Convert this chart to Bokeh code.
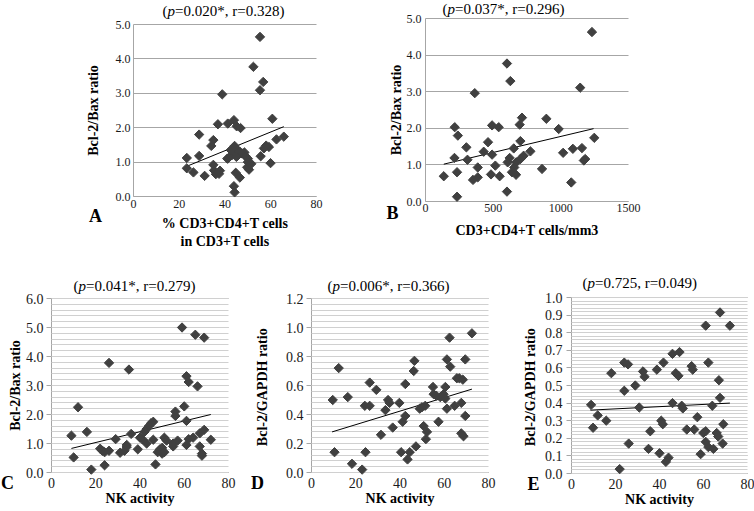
import numpy as np
from bokeh.plotting import figure
from bokeh.layouts import column, row
from bokeh.models import (Range1d, SingleIntervalTicker, PrintfTickFormatter, Label,
                          LinearAxis)
from bokeh.embed import file_html
from bokeh.resources import INLINE

# ---------------- data ----------------
A_pct = [55.3, 52.4, 56.7, 55.3, 38.8, 60.7, 36.9, 41.2, 43.9, 45.1, 46.8, 28.7, 34.9, 34.0, 44.2,
         65.7, 62.5, 57.0, 59.2, 58.0, 55.6, 59.9, 23.3, 28.7, 23.3, 26.2, 31.1, 34.9, 35.2, 37.4,
         37.8, 41.5, 43.0, 44.5, 45.5, 46.5, 47.5, 48.5, 49.0, 50.0, 45.0, 44.7, 46.5, 49.7, 50.5,
         51.5, 50.0, 43.9, 44.2, 36.0, 42.5, 41.0]
A_ratio = [4.64, 3.77, 3.33, 3.09, 2.97, 2.26, 2.10, 2.12, 2.22, 2.04, 1.99, 1.80, 1.64, 1.47, 1.47,
           1.74, 1.66, 1.40, 1.44, 1.48, 1.17, 0.97, 1.12, 1.18, 0.82, 0.70, 0.60, 0.92, 0.76, 0.66,
           0.75, 1.12, 1.20, 1.25, 1.35, 1.30, 1.25, 1.28, 1.17, 1.10, 1.15, 0.69, 0.55, 0.85, 0.78,
           0.95, 1.00, 0.30, 0.12, 0.65, 1.35, 1.10]
A_trend_x = [23.0, 65.7]
A_trend_y = [0.87, 2.03]

B_cells = [1230, 602, 627, 1143, 364, 893, 713, 696, 984, 216, 492, 541, 239, 462, 701, 430, 652,
           775, 1156, 1089, 1247, 1017, 302, 214, 310, 492, 725, 701, 622, 607, 1180, 1170, 516,
           386, 135, 233, 351, 386, 484, 548, 639, 669, 656, 861, 1077, 602, 233, 671]
B_ratio = [4.63, 3.77, 3.29, 3.11, 2.96, 2.26, 2.29, 2.10, 1.98, 2.03, 2.08, 2.03, 1.80, 1.62, 1.65,
           1.36, 1.45, 1.37, 1.46, 1.44, 1.74, 1.33, 1.48, 1.19, 1.14, 1.28, 1.25, 1.16, 1.19, 1.07,
           1.16, 1.12, 0.98, 0.93, 0.69, 0.80, 0.59, 0.66, 0.74, 0.69, 0.80, 0.73, 0.93, 0.89, 0.52,
           0.27, 0.13, 1.07]
B_trend_x = [135, 1242]
B_trend_y = [1.02, 1.99]

C_nk = [9, 10, 12, 16, 18, 22, 23, 24, 24, 26, 26, 29, 31, 33, 34, 34, 35, 36, 39, 40, 41, 42, 43,
        43, 44, 45, 46, 46, 47, 48, 49, 50, 50, 51, 51, 52, 55, 55, 56, 56, 57, 59, 60, 61, 61, 61,
        62, 62, 64, 65, 66, 67, 67, 68, 68, 69, 69, 72]
C_ratio = [1.27, 0.52, 2.25, 1.40, 0.10, 0.82, 0.75, 0.25, 0.70, 3.78, 0.75, 1.15, 0.68, 0.75, 0.88,
           0.95, 3.55, 1.33, 0.80, 1.20, 1.15, 1.40, 1.00, 1.50, 1.60, 1.70, 1.75, 1.13, 0.28, 0.70,
           0.80, 0.85, 0.65, 1.20, 0.70, 1.10, 0.90, 1.00, 2.10, 1.95, 1.10, 5.00, 2.28, 1.78, 3.32,
           0.95, 3.12, 1.15, 1.20, 4.75, 2.97, 1.35, 0.90, 0.65, 0.58, 1.47, 4.65, 1.13]
C_trend_x = [9, 72]
C_trend_y = [0.83, 2.00]

D_nk = [9.6, 12.3, 10.4, 16.4, 18.3, 22.9, 24.4, 24.1, 26.3, 26.3, 29.3, 31.4, 33.4, 34.6, 35.3,
        36.7, 39.7, 40.5, 41.2, 42.4, 42.4, 43.4, 44.4, 46.2, 46.5, 47.2, 48.9, 49.9, 50.7, 51.4,
        51.7, 52.2, 54.9, 55.2, 56.4, 57.4, 58.2, 59.7, 60.5, 60.5, 61.2, 61.2, 62.4, 62.7, 64.7,
        65.7, 66.8, 67.7, 67.7, 68.4, 68.7, 69.5, 69.5, 72.5]
D_ratio = [0.50, 0.72, 0.14, 0.52, 0.06, 0.02, 0.14, 0.46, 0.46, 0.62, 0.57, 0.26, 0.43, 0.50, 0.48,
           0.31, 0.48, 0.14, 0.35, 0.39, 0.61, 0.09, 0.14, 0.70, 0.77, 0.18, 0.44, 0.45, 0.32, 0.46,
           0.23, 0.28, 0.59, 0.54, 0.53, 0.35, 0.52, 0.54, 0.59, 0.51, 0.78, 0.44, 0.93, 0.73, 0.46,
           0.65, 0.65, 0.48, 0.27, 0.64, 0.25, 0.78, 0.39, 0.96]
D_trend_x = [9.3, 72.5]
D_trend_y = [0.28, 0.575]

E_nk = [8.9, 9.8, 11.9, 15.8, 18.1, 21.9, 24.0, 24.0, 25.7, 26.0, 29.0, 30.8, 32.5, 33.2, 35.8,
        35.0, 38.8, 40.0, 40.8, 41.5, 41.8, 42.9, 44.1, 45.9, 45.9, 47.4, 48.6, 49.1, 50.1, 50.6,
        52.4, 54.6, 55.1, 55.8, 57.2, 58.7, 59.9, 61.0, 61.0, 61.0, 62.2, 62.2, 64.0, 64.5, 66.0,
        66.7, 67.0, 67.5, 67.5, 69.0, 68.7, 72.0]
E_ratio = [0.39, 0.26, 0.33, 0.30, 0.57, 0.025, 0.63, 0.47, 0.62, 0.17, 0.50, 0.375, 0.58, 0.55, 0.24,
           0.14, 0.59, 0.115, 0.30, 0.28, 0.63, 0.066, 0.09, 0.68, 0.40, 0.57, 0.555, 0.69, 0.385, 0.37,
           0.25, 0.61, 0.59, 0.25, 0.32, 0.11, 0.23, 0.84, 0.24, 0.18, 0.63, 0.15, 0.385, 0.14, 0.23,
           0.21, 0.53, 0.43, 0.915, 0.28, 0.17, 0.84]
E_trend_x = [8.6, 72.0]
E_trend_y = [0.36, 0.40]

# title pieces: "(" + italic "p" + rest
title_rest = ["=0.020*, r=0.328)", "=0.037*, r=0.296)", "=0.041*, r=0.279)",
              "=0.006*, r=0.366)", "=0.725, r=0.049)"]
letters = ["A", "B", "C", "D", "E"]
xlabels = ["% CD3+CD4+T cells\nin CD3+T cells", "CD3+CD4+T cells/mm3",
           "NK activity", "NK activity", "NK activity"]
ylabels = ["Bcl-2/Bax ratio", "Bcl-2/Bax ratio", "Bcl-2/Bax ratio",
           "Bcl-2/GAPDH  ratio", "Bcl-2/GAPDH  ratio"]

SERIF = "Liberation Serif"
GRID = "#a6a6a6"
MINOR = "#d0d0d0"
MARK = "#404040"
TITLE_PX = 15


def panel(x, y, tx, ty, rest, letter, xlabel, ylabel, *, xr, yr, xint, yint, nminor,
          x0, y0, w, h, fl, fr, ft, fb, tick_px, title_left, title_y, letter_px,
          ytick_out, ystand, ylab_stand, xstand, xlab_stand):
    kx = (xr[1] - xr[0]) / (fr - fl)
    ky = (yr[1] - yr[0]) / (fb - ft)
    p = figure(width=w, height=h, output_backend="svg", toolbar_location=None,
               x_axis_location=None, y_axis_location=None, title=None,
               x_range=Range1d(xr[0] - (fl - x0) * kx, xr[1] + (x0 + w - fr) * kx),
               y_range=Range1d(yr[0] - (y0 + h - fb) * ky, yr[1] + (ft - y0) * ky))
    p.min_border_left = p.min_border_right = p.min_border_top = p.min_border_bottom = 0
    p.outline_line_color = None
    p.background_fill_color = "white"
    p.border_fill_color = "white"
    p.xgrid.visible = False
    p.ygrid.visible = False

    frame_w = fr - fl
    eps_y = (yr[1] - yr[0]) * 1e-9
    eps_x = (xr[1] - xr[0]) * 1e-9
    yax = LinearAxis(fixed_location=xr[0], bounds=(yr[0], yr[1] + eps_y),
                     ticker=SingleIntervalTicker(interval=yint, num_minor_ticks=nminor),
                     formatter=PrintfTickFormatter(format="%.1f"))
    xax = LinearAxis(fixed_location=yr[0], bounds=(xr[0], xr[1] + eps_x),
                     ticker=SingleIntervalTicker(interval=xint, num_minor_ticks=0),
                     formatter=PrintfTickFormatter(format="%d"))
    for ax in (xax, yax):
        ax.axis_line_color = GRID
        ax.major_label_text_font = SERIF
        ax.major_label_text_font_size = tick_px
        ax.major_label_text_color = "#1a1a1a"
        ax.axis_label_text_font = SERIF
        ax.axis_label_text_font_style = "bold"
        ax.axis_label_text_font_size = "14px"
        ax.axis_label_text_color = "black"
        ax.level = "underlay"
    # horizontal grid lines drawn as the y axis' inward ticks
    yax.major_tick_in = frame_w
    yax.major_tick_out = ytick_out
    yax.major_tick_line_color = GRID
    if nminor:
        yax.minor_tick_in = frame_w
        yax.minor_tick_out = 0
        yax.minor_tick_line_color = MINOR
    else:
        yax.minor_tick_line_color = None
    yax.major_label_standoff = ystand
    yax.axis_label_standoff = ylab_stand
    yax.axis_label = ylabel

    xax.major_tick_line_color = None
    xax.minor_tick_line_color = None
    xax.major_tick_in = 0
    xax.major_tick_out = 0
    xax.major_label_standoff = xstand
    xax.axis_label_standoff = xlab_stand
    xax.axis_label = xlabel

    p.add_layout(yax, "left")
    p.add_layout(xax, "below")

    p.line(tx, ty, line_color="black", line_width=1)
    p.scatter(x, y, marker="square", size=6.6, angle=np.pi / 4,
              fill_color=MARK, line_color=MARK)

    def to_data(px, py):
        return xr[0] + (px - fl) * kx, yr[0] + (fb - py) * ky

    # title: "(" , italic "p", rest
    offs = [0.0, 0.333 * TITLE_PX, 0.833 * TITLE_PX]
    parts = [("(", "normal"), ("p", "italic"), (rest, "normal")]
    for off, (txt, style) in zip(offs, parts):
        lx, ly = to_data(title_left + off, title_y)
        p.add_layout(Label(x=lx, y=ly, text=txt, text_font=SERIF,
                           text_font_size=f"{TITLE_PX}px", text_font_style=style,
                           text_align="left", text_baseline="middle", text_color="black"))
    lx, ly = to_data(*letter_px)
    p.add_layout(Label(x=lx, y=ly, text=letter, text_font=SERIF, text_font_size="18px",
                       text_font_style="bold", text_align="center", text_baseline="middle",
                       text_color="black"))
    return p


pA = panel(A_pct, A_ratio, A_trend_x, A_trend_y, title_rest[0], letters[0], xlabels[0], ylabels[0],
           xr=(0, 80), yr=(0, 5), xint=20, yint=1, nminor=0,
           x0=0, y0=0, w=358, h=250, fl=133, fr=316, ft=24, fb=196,
           tick_px="12px", title_left=162, title_y=10, letter_px=(95, 215),
           ytick_out=0, ystand=3, ylab_stand=12, xstand=3, xlab_stand=5)
pB = panel(B_cells, B_ratio, B_trend_x, B_trend_y, title_rest[1], letters[1], xlabels[1], ylabels[1],
           xr=(0, 1500), yr=(0, 5), xint=500, yint=1, nminor=0,
           x0=358, y0=0, w=396, h=250, fl=425, fr=628, ft=18, fb=201,
           tick_px="12px", title_left=442, title_y=8, letter_px=(392, 212),
           ytick_out=0, ystand=4, ylab_stand=0, xstand=2, xlab_stand=8)
pC = panel(C_nk, C_ratio, C_trend_x, C_trend_y, title_rest[2], letters[2], xlabels[2], ylabels[2],
           xr=(0, 80), yr=(0, 6), xint=20, yint=1, nminor=5,
           x0=0, y0=250, w=250, h=260, fl=51, fr=228, ft=298, fb=472,
           tick_px="14px", title_left=73, title_y=285, letter_px=(7, 482),
           ytick_out=5, ystand=3, ylab_stand=0, xstand=5, xlab_stand=0)
pD = panel(D_nk, D_ratio, D_trend_x, D_trend_y, title_rest[3], letters[3], xlabels[3], ylabels[3],
           xr=(0, 80), yr=(0, 1.2), xint=20, yint=0.2, nminor=5,
           x0=250, y0=250, w=250, h=260, fl=311, fr=488, ft=298, fb=472,
           tick_px="14px", title_left=327, title_y=285, letter_px=(257, 482),
           ytick_out=5, ystand=3, ylab_stand=13, xstand=5, xlab_stand=0)
pE = panel(E_nk, E_ratio, E_trend_x, E_trend_y, title_rest[4], letters[4], xlabels[4], ylabels[4],
           xr=(0, 80), yr=(0, 1.0), xint=20, yint=0.1, nminor=5,
           x0=500, y0=250, w=254, h=260, fl=571, fr=747, ft=297, fb=473,
           tick_px="14px", title_left=582, title_y=282, letter_px=(533, 483),
           ytick_out=5, ystand=4, ylab_stand=4, xstand=5, xlab_stand=0)

layout = column(row(pA, pB), row(pC, pD, pE))
open("out.html", "w").write(file_html(layout, INLINE))
